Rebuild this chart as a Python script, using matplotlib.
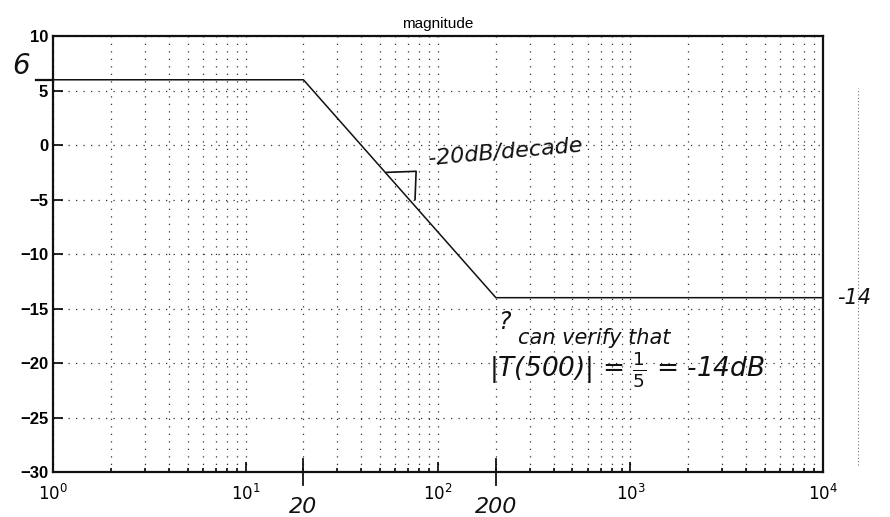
import numpy as np
import matplotlib
matplotlib.use('Agg')
from matplotlib import pyplot as plt
from matplotlib.lines import Line2D

plt.rcParams['font.family'] = ['Liberation Sans', 'DejaVu Sans']

# asymptotic magnitude: corner frequencies and levels
freq = [1, 20, 200, 10000]
mag_db = [6, 6, -14, -14]
yticks = [10, 5, 0, -5, -10, -15, -20, -25, -30]
xticks = [1, 10, 100, 1000, 10000]
xticklabels = ['$10^0$', '$10^1$', '$10^2$', '$10^3$', '$10^4$']

ink = '#111111'
hand = dict(color=ink, family='DejaVu Sans', style='italic')

fig = plt.figure(figsize=(8.9, 5.17), dpi=100)
ax = fig.add_axes([0.0596, 0.087, 0.865, 0.843])

ax.semilogx(freq, mag_db, color=ink, lw=1.1)
ax.set_xlim(1, 10000)
ax.set_ylim(-30, 10)
ax.set_yticks(yticks)
ax.set_xticks(xticks)
ax.set_xticklabels(xticklabels)
ax.tick_params(direction='in', which='both', labelsize=12, width=1.2)
ax.tick_params(which='major', length=7)
ax.tick_params(which='minor', length=3)
ax.tick_params(axis='x', pad=8)
for lab in ax.get_yticklabels():
    lab.set_fontweight('bold')
for s in ax.spines.values():
    s.set_linewidth(1.6)
    s.set_color(ink)
ax.grid(True, which='major', ls=(0, (1, 5)), color='#333333', lw=0.9)
ax.grid(True, which='minor', axis='x', ls=(0, (1, 5)), color='#333333', lw=0.9)
ax.set_title('magnitude', fontsize=11, pad=6)

# hand-written notes
ytr = ax.get_yaxis_transform()
ax.plot([-0.022, 0], [6, 6], color=ink, lw=1.6, transform=ytr, clip_on=False)
ax.text(-0.042, 7.3, '6', transform=ytr, ha='center', va='center',
        fontsize=20, **hand)
ax.text(1.04, -14, '-14', transform=ytr, ha='center', va='center',
        fontsize=15, **hand)
for f, lab in [(20, '20'), (200, '200')]:
    ax.plot([f, f], [-31.2, -28.8], color=ink, lw=1.3, clip_on=False)
    ax.text(f, -33.2, lab, ha='center', va='center', fontsize=16, **hand)
ax.text(88, -0.6, '-20dB/decade', fontsize=16, rotation=5, ha='left', va='center', **hand)
ax.plot([54, 77, 76], [-2.5, -2.4, -5.0], color=ink, lw=1.2)
ax.text(205, -16.2, '?', fontsize=17, ha='left', va='center', **hand)
ax.text(260, -17.7, 'can verify that', fontsize=15, ha='left', va='center', **hand)
ax.text(185, -20.6, '|T(500)| = $\\frac{1}{5}$ = -14dB', fontsize=19, ha='left',
        va='center', **hand)

# scan artifact at right edge
fig.add_artist(Line2D([0.964, 0.964], [0.1, 0.83], color='#777777', lw=0.8,
                      ls=(0, (1, 2))))

fig.savefig('out.png', dpi=100)
